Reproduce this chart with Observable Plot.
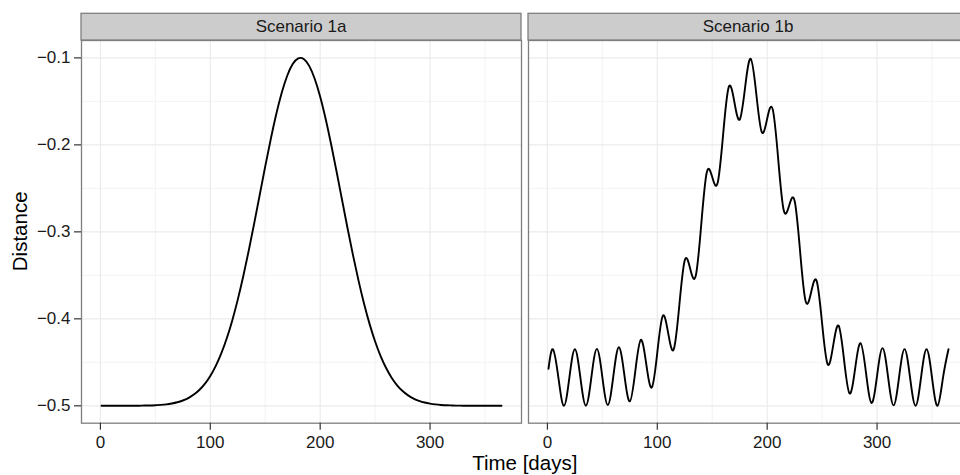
<!DOCTYPE html>
<html>
<head>
<meta charset="utf-8">
<script src="https://cdn.jsdelivr.net/npm/d3@7"></script>
<script src="https://cdn.jsdelivr.net/npm/@observablehq/plot@0.6"></script>
<style>
  html, body { margin: 0; padding: 0; background: #ffffff; overflow: hidden; width: 960px; height: 475px; }
  #chart { width: 969px; height: 475px; }
  #chart svg { display: block; max-width: none !important; width: 969px !important; height: 475px !important; }
</style>
</head>
<body>
<div id="chart"></div>
<script>
// ---- data ----
const scenarios = ["Scenario 1a", "Scenario 1b"];
const xTicks = [0, 100, 200, 300];
const xMinor = [50, 150, 250, 350];
const yTicks = [-0.5, -0.4, -0.3, -0.2, -0.1];
const yMinor = [-0.45, -0.35, -0.25, -0.15];
const xTitle = "Time [days]";
const yTitle = "Distance";

const days = [1, 5, 10, 15, 20, 25, 30, 35, 40, 45, 50, 55, 60, 65, 70, 75, 80, 85, 90, 95,
  100, 105, 110, 115, 120, 125, 130, 135, 140, 145, 150, 155, 160, 165, 170, 175, 180, 185, 190, 195,
  200, 205, 210, 215, 220, 225, 230, 235, 240, 245, 250, 255, 260, 265, 270, 275, 280, 285, 290, 295,
  300, 305, 310, 315, 320, 325, 330, 335, 340, 345, 350, 355, 360, 365];

const scenario1a = [-0.5, -0.5, -0.5, -0.5, -0.5, -0.5, -0.4999, -0.4999, -0.4997, -0.4996,
  -0.4993, -0.4989, -0.4983, -0.4973, -0.4959, -0.4939, -0.4911, -0.4871, -0.4818, -0.4748,
  -0.4657, -0.4541, -0.4398, -0.4224, -0.4018, -0.3779, -0.3510, -0.3215, -0.2900, -0.2574,
  -0.2248, -0.1935, -0.1648, -0.1401, -0.1205, -0.1071, -0.1006, -0.1013, -0.1092, -0.1240,
  -0.1446, -0.1703, -0.1996, -0.2312, -0.2640, -0.2964, -0.3276, -0.3566, -0.3829, -0.4061,
  -0.4261, -0.4429, -0.4566, -0.4677, -0.4764, -0.4830, -0.4880, -0.4917, -0.4943, -0.4962,
  -0.4975, -0.4984, -0.4990, -0.4994, -0.4996, -0.4998, -0.4999, -0.5, -0.5, -0.5,
  -0.5, -0.5, -0.5, -0.5];

const scenario1b = [-0.4575, -0.435, -0.4675, -0.5, -0.4675, -0.435, -0.4674, -0.4999, -0.4673, -0.4346,
  -0.4669, -0.4991, -0.4660, -0.4327, -0.4641, -0.4949, -0.4600, -0.4242, -0.4523, -0.4789,
  -0.4388, -0.3966, -0.4171, -0.4350, -0.3852, -0.3327, -0.3427, -0.3505, -0.2916, -0.2318,
  -0.2370, -0.2433, -0.1868, -0.1336, -0.1497, -0.1709, -0.1330, -0.1011, -0.1402, -0.1851,
  -0.1699, -0.1589, -0.2159, -0.2749, -0.2698, -0.2645, -0.3231, -0.3799, -0.3695, -0.3564,
  -0.4056, -0.4522, -0.4312, -0.4079, -0.4477, -0.4858, -0.4575, -0.4280, -0.4628, -0.4968,
  -0.4654, -0.4337, -0.4667, -0.4995, -0.4672, -0.4348, -0.4674, -0.5, -0.4675, -0.435,
  -0.4675, -0.5, -0.4675, -0.435];

const rows = [
  ...days.map((d, i) => ({scenario: scenarios[0], day: d, value: scenario1a[i]})),
  ...days.map((d, i) => ({scenario: scenarios[1], day: d, value: scenario1b[i]}))
];

// ---- layout ----
const W = 969, H = 475;
const mL = 80.5, mR = 0, mT = 40, mB = 52.3;
const fontFam = "'Liberation Sans', Arial, Helvetica, sans-serif";

const plot = Plot.plot({
  width: W,
  height: H,
  marginLeft: mL,
  marginRight: mR,
  marginTop: mT,
  marginBottom: mB,
  style: {fontFamily: fontFam, fontSize: "17px", color: "#1a1a1a", background: "#ffffff", overflow: "visible", maxWidth: "none"},
  fx: {domain: scenarios, paddingInner: 0.0147, paddingOuter: 0, axis: null, label: null},
  x: {domain: [-17.2, 383.2], label: null},
  y: {domain: [-0.52, -0.08], label: null},
  marks: [
    Plot.gridX(xMinor, {stroke: "#f5f5f5", strokeOpacity: 1, strokeWidth: 1.2}),
    Plot.gridY(yMinor, {stroke: "#f5f5f5", strokeOpacity: 1, strokeWidth: 1.2}),
    Plot.gridX(xTicks, {stroke: "#ebebeb", strokeOpacity: 1, strokeWidth: 1.2}),
    Plot.gridY(yTicks, {stroke: "#ebebeb", strokeOpacity: 1, strokeWidth: 1.2}),
    Plot.line(rows, {x: "day", y: "value", fx: "scenario", curve: "natural", stroke: "#000000", strokeWidth: 1.9}),
    Plot.frame({stroke: "#7f7f7f", strokeWidth: 1.3}),
    Plot.axisX(xTicks, {tickSize: 7, tickPadding: 6, stroke: "#333333", strokeWidth: 1.2, label: null, fill: "#1a1a1a"}),
    Plot.axisY(yTicks, {tickSize: 7, tickPadding: 4, stroke: "#333333", strokeWidth: 1.2, label: null, fill: "#1a1a1a",
      tickFormat: d3.format(".1f")})
  ]
});

document.getElementById("chart").appendChild(plot);

// ---- facet strips and axis titles ----
const svg = d3.select(plot);
let fxScale = null;
try { fxScale = plot.scale("fx"); } catch (e) { fxScale = null; }
const step = (W - mL - mR) / (2 - 0.0147);
const bw = fxScale && fxScale.bandwidth ? fxScale.bandwidth : step * (1 - 0.0147);
const g = svg.append("g").attr("font-family", fontFam);
scenarios.forEach((s, i) => {
  const x0 = fxScale && fxScale.apply ? fxScale.apply(s) : mL + i * step;
  g.append("rect")
    .attr("x", x0).attr("y", 13.3).attr("width", bw).attr("height", mT - 13.3)
    .attr("fill", "#cccccc").attr("stroke", "#7f7f7f").attr("stroke-width", 1.3);
  g.append("text")
    .attr("x", x0 + bw / 2).attr("y", 32.3)
    .attr("text-anchor", "middle").attr("font-size", "17px").attr("fill", "#1a1a1a")
    .text(s);
});
g.append("text")
  .attr("transform", `translate(26.6,${(mT + H - mB) / 2}) rotate(-90)`)
  .attr("text-anchor", "middle").attr("font-size", "20.5px").attr("fill", "#000000")
  .text(yTitle);
g.append("text")
  .attr("x", (mL + W - mR) / 2).attr("y", 469.5)
  .attr("text-anchor", "middle").attr("font-size", "20.5px").attr("fill", "#000000")
  .text(xTitle);
</script>
</body>
</html>
